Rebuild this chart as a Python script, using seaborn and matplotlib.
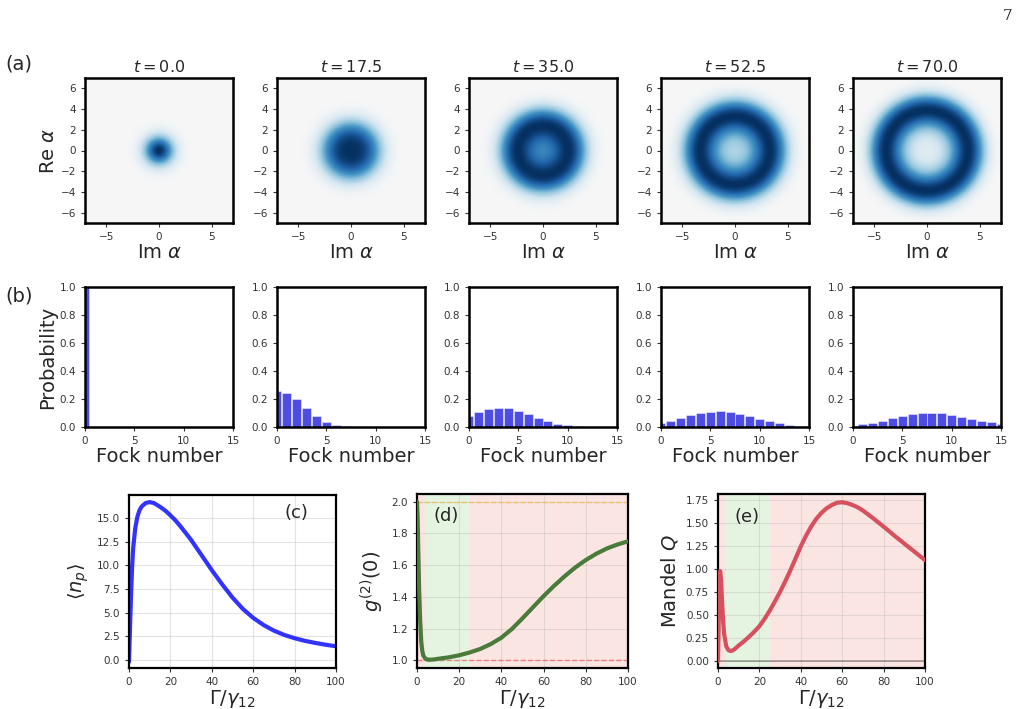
import math
import numpy as np
import matplotlib
matplotlib.use("Agg")
import matplotlib.pyplot as plt
import seaborn as sns

# ---- data ----
TIMES = [0.0, 17.5, 35.0, 52.5, 70.0]
FOCK_N = list(range(16))
P_T0 = [1.0] + [0.0] * 15
P_T17 = [0.26, 0.245, 0.197, 0.137, 0.077, 0.036, 0.014, 0.004, 0.001, 0, 0, 0, 0, 0, 0, 0]
P_T35 = [0.079, 0.108, 0.127, 0.137, 0.134, 0.115, 0.091, 0.065, 0.041, 0.024, 0.012, 0.005, 0.002, 0, 0, 0]
P_T52 = [0.029, 0.045, 0.064, 0.083, 0.100, 0.109, 0.112, 0.105, 0.093, 0.076, 0.057, 0.040, 0.027, 0.017, 0.010, 0.006]
P_T70 = [0.010, 0.019, 0.030, 0.045, 0.062, 0.079, 0.093, 0.100, 0.100, 0.097, 0.087, 0.074, 0.060, 0.045, 0.033, 0.024]
FOCK_P = [P_T0, P_T17, P_T35, P_T52, P_T70]

GAMMA_C = [0, 0.5, 1, 1.5, 2, 3, 4, 5, 6, 8, 10, 12, 15, 17.5, 20, 22.5, 25, 30, 35, 40, 45,
           50, 55, 60, 65, 70, 75, 80, 85, 90, 95, 100]
NP_MEAN = [-0.2, 3.5, 7.0, 9.8, 11.8, 13.9, 15.1, 15.8, 16.2, 16.6, 16.7, 16.6, 16.2, 15.8,
           15.3, 14.75, 14.1, 12.7, 11.1, 9.5, 8.0, 6.6, 5.4, 4.45, 3.7, 3.1, 2.65, 2.3, 2.02,
           1.8, 1.61, 1.45]

GAMMA_D = [0, 0.3, 0.6, 1, 1.5, 2, 2.5, 3, 4, 5, 6, 8, 10, 15, 20, 25, 30, 35, 40, 45, 50,
           55, 60, 65, 70, 75, 80, 85, 90, 95, 100]
G2 = [2.0, 1.9, 1.7, 1.45, 1.25, 1.12, 1.06, 1.03, 1.01, 1.005, 1.004, 1.006, 1.01, 1.019, 1.032,
      1.05, 1.072, 1.103, 1.143, 1.198, 1.265, 1.335, 1.405, 1.47, 1.53, 1.585, 1.632, 1.672,
      1.705, 1.73, 1.75]

GAMMA_E = [0, 0.5, 1, 1.5, 2, 2.5, 3, 4, 5, 6, 7, 8, 10, 12.5, 15, 17.5, 20, 22.5, 25, 27.5,
           30, 32.5, 35, 37.5, 40, 42.5, 45, 47.5, 50, 52.5, 55, 57.5, 60, 62.5, 65, 67.5, 70,
           75, 80, 85, 90, 95, 100]
MANDEL_Q = [0.0, 0.6, 0.98, 0.88, 0.62, 0.43, 0.29, 0.16, 0.12, 0.11, 0.115, 0.13, 0.17, 0.215,
            0.265, 0.32, 0.38, 0.46, 0.55, 0.65, 0.755, 0.87, 0.99, 1.12, 1.25, 1.365, 1.465,
            1.55, 1.615, 1.665, 1.70, 1.725, 1.73, 1.72, 1.70, 1.675, 1.64, 1.555, 1.465, 1.37,
            1.28, 1.19, 1.10]

COHERENT_BAND = (4, 25)

sns.set_style("ticks")
plt.rcParams.update({
    "axes.edgecolor": "black",
    "xtick.color": "#333333",
    "ytick.color": "#333333",
    "xtick.labelsize": 7.5,
    "ytick.labelsize": 7.5,
    "xtick.major.size": 3,
    "ytick.major.size": 3,
})

W, H = 1020, 709
fig = plt.figure(figsize=(W / 100, H / 100), dpi=100)


def add_ax(x0, y0, x1, y1):
    # pixel box -> figure fraction
    return fig.add_axes([x0 / W, 1 - y1 / H, (x1 - x0) / W, (y1 - y0) / H])


def thick(ax, lw=1.8):
    for s in ax.spines.values():
        s.set_linewidth(lw)
        s.set_color("black")


lefts = [85, 277, 469, 661, 853]
xv = np.linspace(-7, 7, 241)
X, Y = np.meshgrid(xv, xv)
r2 = (X ** 2 + Y ** 2) / 2  # |alpha|^2 with qutip g = sqrt(2)

# (a) Husimi Q functions built from the Fock distributions
for i, (t, p) in enumerate(zip(TIMES, FOCK_P)):
    ax = add_ax(lefts[i], 78, lefts[i] + 148, 223)
    Q = sum(pn * r2 ** n / math.factorial(n) for n, pn in enumerate(p)) * np.exp(-r2) / np.pi
    ax.imshow(Q, cmap="RdBu", vmin=-Q.max(), vmax=Q.max(), extent=[-7, 7, -7, 7],
              origin="lower", aspect="auto", interpolation="bilinear")
    ax.set_xticks([-5, 0, 5])
    ax.set_yticks([-6, -4, -2, 0, 2, 4, 6])
    ax.set_title(f"$t = {t:.1f}$", fontsize=11.5, pad=4)
    ax.set_xlabel(r"Im $\alpha$", fontsize=14, labelpad=1)
    if i == 0:
        ax.set_ylabel(r"Re $\alpha$", fontsize=14, labelpad=2)
    thick(ax)

# (b) photon number distributions
for i, p in enumerate(FOCK_P):
    ax = add_ax(lefts[i], 287, lefts[i] + 148, 427)
    sns.barplot(x=FOCK_N, y=p, native_scale=True, color="blue", alpha=0.8,
                edgecolor="white", linewidth=0.4, width=0.9, ax=ax)
    ax.set_xlim(0, 15)
    ax.set_ylim(0, 1)
    ax.set_xticks([0, 5, 10, 15])
    ax.set_xticklabels(["0", "5", "10", "15"])
    ax.set_yticks(np.arange(0, 1.01, 0.2))
    ax.set_xlabel("Fock number", fontsize=14, labelpad=1)
    ax.set_ylabel("Probability" if i == 0 else "", fontsize=14, labelpad=2)
    thick(ax)

# (c) mean photon number
ax_c = add_ax(129, 495, 336, 668)
sns.lineplot(x=GAMMA_C, y=NP_MEAN, color="blue", alpha=0.8, lw=3, ax=ax_c)
ax_c.set_ylim(-0.85, 17.45)
ax_c.text(75, 15.0, "(c)", fontsize=13)
ax_c.set_ylabel(r"$\langle n_p \rangle$", fontsize=14)

# (d) g2(0)
ax_d = add_ax(417, 494, 628, 668)
sns.lineplot(x=GAMMA_D, y=G2, color="#4b7b3b", lw=3, ax=ax_d, zorder=3)
ax_d.axhline(2.0, color="orange", ls="--", alpha=0.5, lw=1)
ax_d.axhline(1.0, color="red", ls="--", alpha=0.4, lw=1)
ax_d.set_ylim(0.952, 2.048)
ax_d.text(8, 1.88, "(d)", fontsize=13)
ax_d.set_ylabel(r"$g^{(2)}(0)$", fontsize=14)

# (e) Mandel Q
ax_e = add_ax(718, 494, 925, 668)
sns.lineplot(x=GAMMA_E, y=MANDEL_Q, color="#d6505e", lw=3, ax=ax_e, zorder=3)
ax_e.axhline(0, color="black", alpha=0.35, lw=1.2)
ax_e.set_ylim(-0.075, 1.82)
ax_e.text(8, 1.52, "(e)", fontsize=13)
ax_e.set_ylabel(r"Mandel $Q$", fontsize=14)

for ax in (ax_d, ax_e):
    ax.axvspan(0, COHERENT_BAND[0], color="#fbe5e2", zorder=0)
    ax.axvspan(*COHERENT_BAND, color="#e5f4e0", zorder=0)
    ax.axvspan(COHERENT_BAND[1], 100, color="#fbe5e2", zorder=0)

for ax in (ax_c, ax_d, ax_e):
    ax.set_xlim(0, 100)
    ax.set_xticks([0, 20, 40, 60, 80, 100])
    ax.grid(True, color="#bbbbbb", alpha=0.4, lw=0.8)
    ax.set_axisbelow(True)
    ax.set_xlabel(r"$\Gamma/\gamma_{12}$", fontsize=14, labelpad=1)
    thick(ax, 1.6)

fig.text(5 / W, 1 - 70 / H, "(a)", fontsize=14)
fig.text(5 / W, 1 - 302 / H, "(b)", fontsize=14)
fig.text(1003 / W, 1 - 20 / H, "7", fontsize=11, family="DejaVu Serif")

fig.savefig("out.png", dpi=100)
